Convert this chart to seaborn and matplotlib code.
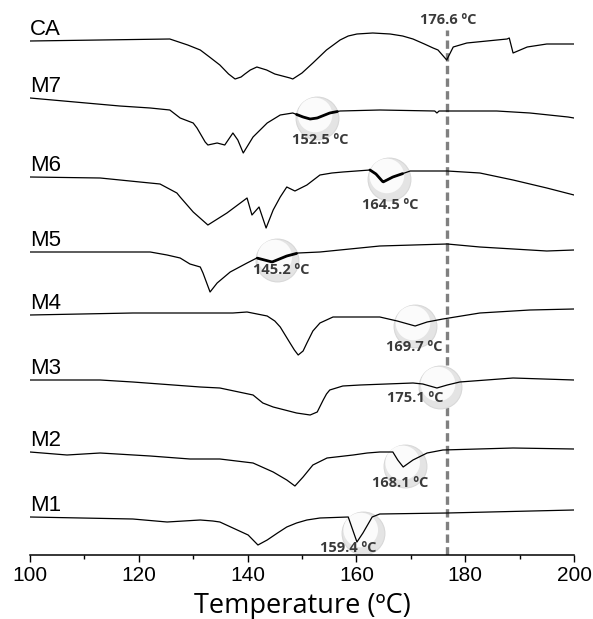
import numpy as np
import pandas as pd
import matplotlib
matplotlib.use("Agg")
import matplotlib.pyplot as plt
import seaborn as sns

# DSC traces, top to bottom (heat flow in arbitrary units, endo down)
samples = ["CA", "M7", "M6", "M5", "M4", "M3", "M2", "M1"]
offsets = [514, 457, 378, 303, 240, 175, 103, 38]

ca_t = [100, 112.9, 125.7, 129.0, 131.3, 133.0, 134.9, 136.5, 137.7, 138.8, 139.5, 140.5, 141.7,
        143.5, 145.0, 147.8, 148.3, 150.0, 152.0, 154.5, 157.0, 158.5, 160.1, 163.0, 166.2, 168.5,
        170.4, 172.5, 174.1, 175.0, 176.6, 177.8, 180.3, 187.7, 188.1, 188.8, 191.4, 195.0, 200]
ca_hf = [0, 1, 2, -4, -9, -16, -24, -33, -38, -36, -33, -29, -26,
         -29, -33, -37, -38, -32, -22, -9, 1, 5, 7, 8, 7, 5,
         2, -3, -7, -9, -19, -6, -2, 2, 3, -12, -6, -3, -3]

m7_t = [100, 116.5, 122.1, 125.7, 127.6, 130.0, 130.7, 132.2, 132.7, 134.4, 135.8, 137.3, 138.2,
        139.2, 141.0, 143.6, 146.0, 148.3, 150.2, 151.5, 152.8, 155.1, 157.0, 164.3, 174.4, 174.8,
        175.2, 185.8, 191.9, 198.9, 200]
m7_hf = [0, -8, -10, -12, -20, -25, -30, -44, -47, -45, -47, -35, -42,
         -55, -39, -25, -17, -15, -19, -21, -20, -15, -13, -12, -13, -15,
         -13, -13, -15, -19, -20]

m6_t = [100, 112.9, 120.2, 123.9, 127.0, 127.6, 130.0, 132.7, 136.2, 139.9, 140.8, 142.1, 143.4,
        144.7, 146.0, 147.2, 148.7, 150.9, 153.3, 155.5, 157.5, 160.0, 162.5, 163.6, 164.9, 166.7,
        169.9, 176.7, 182.7, 188.8, 195.0, 200]
m6_hf = [0, -1, -5, -7, -16, -20, -35, -48, -36, -21, -38, -30, -51,
         -33, -20, -10, -14, -8, 2, 4, 5, 6, 7, 3, -5, 0,
         6, 6, 4, -3, -11, -18]

m5_t = [100, 122.1, 125.2, 127.6, 129.4, 131.3, 131.8, 133.1, 134.4, 136.8, 139.9, 141.7, 144.5,
        147.2, 149.3, 153.3, 164.3, 176.7, 182.7, 195.0, 200]
m5_hf = [0, 0, -3, -6, -12, -15, -21, -40, -31, -20, -11, -6, -10,
         -4, -1, 0, 6, 8, 5, 1, 2]

m4_t = [100, 118.9, 137.3, 139.9, 143.6, 145.0, 146.0, 147.8, 148.6, 149.3, 150.2, 150.9, 152.0,
        153.3, 155.7, 164.3, 167.5, 170.8, 173.0, 175.9, 182.7, 191.9, 200]
m4_hf = [0, 2, 2, 3, -1, -6, -12, -28, -35, -40, -36, -28, -16,
         -8, -2, -2, -6, -11, -7, -4, 2, 5, 6]

m3_t = [100, 112.9, 118.9, 131.3, 134.9, 141.0, 142.8, 144.7, 149.0, 151.5, 152.8, 153.9, 154.5,
        155.1, 157.5, 160.7, 170.4, 172.2, 174.8, 176.7, 179.0, 188.8, 200]
m3_hf = [0, 0, -2, -7, -8, -15, -23, -27, -33, -35, -32, -20, -14,
         -10, -6, -5, -3, -4, -8, -5, -2, 2, 0]

m2_t = [100, 106.8, 112.9, 122.1, 129.4, 134.9, 141.0, 144.7, 147.2, 148.7, 150.2, 152.0, 154.6,
        159.4, 162.0, 164.3, 166.7, 167.6, 168.6, 170.4, 173.0, 175.9, 188.8, 200]
m2_hf = [0, -3, -1, -4, -7, -7, -11, -20, -28, -34, -25, -13, -6,
         -3, -1, 0, 0, -8, -15, -8, -1, 2, 4, 3]

m1_t = [100, 118.9, 125.2, 131.3, 133.6, 134.9, 138.1, 140.1, 141.9, 143.6, 145.5, 147.2, 149.0,
        150.9, 153.3, 158.5, 159.2, 160.1, 161.2, 162.9, 164.3, 176.7, 200]
m1_hf = [0, -2, -5, -3, -4, -5, -13, -18, -28, -23, -16, -10, -6,
         -3, -1, 0, -11, -25, -16, 0, 3, 4, 7]

temps = [ca_t, m7_t, m6_t, m5_t, m4_t, m3_t, m2_t, m1_t]
flows = [ca_hf, m7_hf, m6_hf, m5_hf, m4_hf, m3_hf, m2_hf, m1_hf]

# melting point of CA
ca_melt = 176.6

# magnified events
event_samples = ["M7", "M6", "M5", "M4", "M3", "M2", "M1"]
event_temps = [152.5, 164.5, 145.2, 169.7, 175.1, 168.1, 159.4]
bubble_t = [152.8, 166.0, 145.4, 170.8, 175.4, 168.9, 161.2]
label_t = [153.3, 166.2, 146.1, 170.6, 170.8, 168.0, 158.5]
label_dy = [-22, -26, -10, -21, -11, -17, -15]
thick_range = [(149.0, 156.5), (162.5, 168.5), (141.8, 149.0), None, None, None, None]

sns.set_theme(style="white")
plt.rcParams["font.family"] = ["Liberation Sans", "DejaVu Sans"]
plt.rcParams["text.color"] = "black"
plt.rcParams["axes.labelcolor"] = "black"
plt.rcParams["xtick.color"] = "black"

fig = plt.figure(figsize=(5.93, 6.19), dpi=100)
ax = fig.add_axes([30 / 593, 64 / 619, 544 / 593, 555 / 619])

for name, t, hf, off in zip(samples, temps, flows, offsets):
    y = np.array(hf) + off
    sns.lineplot(x=t, y=y, color="black", lw=0.9, ax=ax, zorder=3)
    ax.text(100, off + 6, name, fontsize=16, ha="left", va="baseline", color="black")

# bubbles + labels
for i, name in enumerate(event_samples):
    k = samples.index(name)
    t = np.array(temps[k])
    y = np.array(flows[k]) + offsets[k]
    by = np.interp(bubble_t[i], t, y)
    ax.scatter([bubble_t[i]], [by], s=950, color="#e4e4e4", edgecolor="#d8d8d8", lw=0.8, zorder=2)
    ax.scatter([bubble_t[i] - 0.4], [by + 3], s=620, color="#fbfbfb", edgecolor="none", zorder=2)
    if thick_range[i] is not None:
        lo, hi = thick_range[i]
        tt = np.linspace(lo, hi, 40)
        ax.plot(tt, np.interp(tt, t, y), color="black", lw=2.0, zorder=4)
    ax.text(label_t[i], by + label_dy[i], f"{event_temps[i]} ºC", fontsize=10.5, fontweight="bold",
            family=["Open Sans", "DejaVu Sans"], color="#3a3a3a", ha="center", va="center", zorder=5)

ax.vlines(ca_melt, 0, 525, color="#808080", lw=2.4, linestyles=(0, (2.5, 1.3)), zorder=1)
ax.text(ca_melt + 0.2, 535, f"{ca_melt} ºC", fontsize=10.5, fontweight="bold",
        family=["Open Sans", "DejaVu Sans"], color="#3a3a3a", ha="center", va="center")

ax.set_xlim(100, 200)
ax.set_ylim(0, 555)
ax.set_xticks(range(100, 201, 20))
ax.set_xticks(range(110, 200, 20), minor=True)
ax.set_yticks([])
ax.tick_params(axis="x", which="major", direction="out", length=5, width=1, labelsize=15, pad=3,
               bottom=True, colors="black")
ax.tick_params(axis="x", which="minor", direction="out", length=3, width=1, bottom=True)
for s in ["left", "right", "top"]:
    ax.spines[s].set_visible(False)
ax.spines["bottom"].set_color("black")
ax.spines["bottom"].set_linewidth(1.1)
ax.set_xlabel("Temperature (ºC)", fontsize=19.5, family=["Open Sans", "DejaVu Sans"], labelpad=5)
ax.set_ylabel("")
ax.patch.set_alpha(0)

fig.savefig("out.png", dpi=100)
